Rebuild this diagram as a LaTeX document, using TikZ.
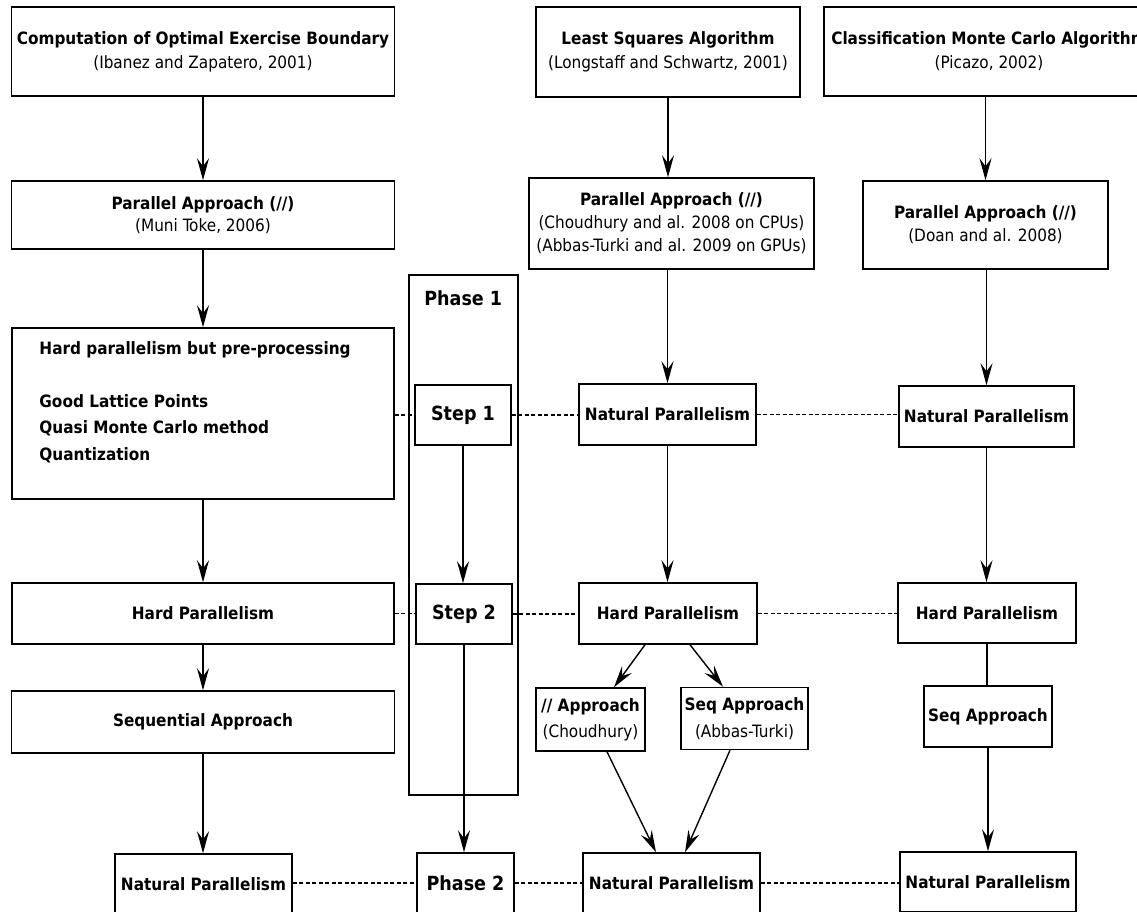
\documentclass[tikz,border=0pt]{standalone}
\usepackage{fontspec}
\setmainfont{DejaVu Sans Condensed}
\usetikzlibrary{arrows.meta,calc}
\newcommand\dgfont{\fontsize{17}{24}\selectfont}
\newcommand\stfont{\fontsize{19.5}{24}\selectfont\bfseries}
\begin{document}
\begin{tikzpicture}[x=1pt,y=-1pt,
  box/.style={draw, line width=1.5pt, inner sep=0pt, align=center, font=\dgfont},
  bbox/.style={box, font=\dgfont\bfseries},
  sbox/.style={box, font=\stfont},
  arr/.style={line width=1.4pt, -{Stealth[length=22pt,width=12pt,inset=8pt]}},
  plain/.style={line width=1.4pt},
  dotline/.style={line width=1.3pt, dash pattern=on 4pt off 2.5pt}]
\useasboundingbox (0,0) rectangle (1137,911);
\fill[white] (0,0) rectangle (1137,911);
\clip (0,0) rectangle (1137,911);

% top row: the three algorithms
\node[box, minimum width=383pt, minimum height=89pt] (ceb) at (203,51.5)
  {\textbf{Computation of Optimal Exercise Boundary}\\(Ibanez and Zapatero, 2001)};
\node[box, minimum width=264pt, minimum height=90pt] (ls) at (668,52)
  {\textbf{Least Squares Algorithm}\\(Longstaff and Schwartz, 2001)};
\node[box, minimum width=330pt, minimum height=89pt] (cmc) at (989,51.5)
  {\textbf{Classification Monte Carlo Algorithm}\\(Picazo, 2002)};

% parallel approaches
\node[box, minimum width=383pt, minimum height=68pt, font=\fontsize{17}{22}\selectfont] (pa1) at (203,215)
  {\textbf{Parallel Approach (//)}\\(Muni Toke, 2006)};
\node[box, minimum width=285pt, minimum height=91pt, font=\fontsize{17}{23}\selectfont] (pa2) at (671.5,223.5)
  {\textbf{Parallel Approach (//)}\\(Choudhury and al. 2008 on CPUs)\\(Abbas-Turki and al. 2009 on GPUs)};
\node[box, minimum width=245pt, minimum height=88pt, font=\fontsize{17}{23}\selectfont] (pa3) at (985.5,225)
  {\textbf{Parallel Approach (//)}\\(Doan and al. 2008)};

% phase 1 frame
\node[box, minimum width=109pt, minimum height=520pt, anchor=north west] (ph1) at (408,274) {};
\node[font=\stfont, inner sep=0pt] (ph1lbl) at ($(ph1.north)+(0,24)$) {Phase 1};

% step 1 row
\node[box, minimum width=382pt, minimum height=171pt] (hpp) at (203,413.5) {};
\node[font=\fontsize{17}{26.5}\selectfont\bfseries, align=left, anchor=north west, inner sep=0pt]
  (hpptxt) at ($(hpp.north west)+(28,14)$)
  {Hard parallelism but pre-processing\\[26.5pt]Good Lattice Points\\Quasi Monte Carlo method\\Quantization};
\node[sbox, minimum width=96pt, minimum height=60pt] (s1) at (463,415) {Step 1};
\node[bbox, minimum width=177pt, minimum height=61pt] (np1) at (667.5,414.5) {Natural Parallelism};
\node[bbox, minimum width=175pt, minimum height=61pt] (np2) at (986.5,416.5) {Natural Parallelism};

% step 2 row
\node[bbox, minimum width=382pt, minimum height=61pt] (hp1) at (203,613.5) {Hard Parallelism};
\node[sbox, minimum width=96pt, minimum height=60pt] (s2) at (464,614) {Step 2};
\node[bbox, minimum width=178pt, minimum height=61pt] (hp2) at (668,613.5) {Hard Parallelism};
\node[bbox, minimum width=178pt, minimum height=60pt] (hp3) at (987,613) {Hard Parallelism};

% approaches after the hard step
\node[bbox, minimum width=383pt, minimum height=62pt] (seq) at (203,722) {Sequential Approach};
\node[box, minimum width=109pt, minimum height=63pt, font=\fontsize{17}{26}\selectfont] (pa4) at (590.5,719.5) {\textbf{// Approach}\\(Choudhury)};
\node[box, minimum width=127pt, minimum height=62pt, font=\fontsize{17}{27}\selectfont] (sa1) at (744.5,718.5) {\textbf{Seq Approach}\\(Abbas-Turki)};
\node[bbox, minimum width=128pt, minimum height=61pt] (sa2) at (988,716.5) {Seq Approach};

% phase 2 row
\node[bbox, minimum width=177pt, minimum height=60pt] (npa) at (203.5,884) {Natural Parallelism};
\node[sbox, minimum width=97pt, minimum height=60pt] (ph2) at (465.5,883) {Phase 2};
\node[bbox, minimum width=177pt, minimum height=60pt] (npb) at (671.5,883) {Natural Parallelism};
\node[bbox, minimum width=176pt, minimum height=60pt] (npc) at (988,882) {Natural Parallelism};

% vertical flow
\draw[arr] (ceb.south) -- (ceb.south |- pa1.north);
\draw[arr] (ls.south) -- (ls.south |- pa2.north);
\draw[arr] (cmc.south -| pa3.north) -- (pa3.north);
\draw[arr] (pa1.south) -- (pa1.south |- hpp.north);
\draw[arr] (pa2.south -| np1.north) -- (np1.north);
\draw[arr] (pa3.south -| np2.north) -- (np2.north);
\draw[arr] (hpp.south) -- (hpp.south |- hp1.north);
\draw[arr] (s1.south) -- (s1.south |- s2.north);
\draw[arr] (np1.south) -- (np1.south |- hp2.north);
\draw[arr] (np2.south) -- (np2.south |- hp3.north);
\draw[arr] (hp1.south) -- (hp1.south |- seq.north);
\draw[plain] (hp3.south) -- (hp3.south |- sa2.north);
\draw[arr] (seq.south) -- (seq.south |- npa.north);
\draw[arr] (s2.south) -- (s2.south |- ph2.north);
\draw[arr] (sa2.south) -- (sa2.south |- npc.north);

% split and merge around the hard step
\draw[arr] ($(hp2.south)+(-23,0)$) -- ($(pa4.north)+(23.5,0)$);
\draw[arr] ($(hp2.south)+(22,0)$) -- ($(sa1.north)+(-21.5,0)$);
\draw[arr] ($(pa4.south)+(16.5,0)$) -- ($(npb.north)+(-15.5,0)$);
\draw[arr] ($(sa1.south)+(-14.5,0)$) -- ($(npb.north)+(13.5,0)$);

% dotted rows linking the phases
\draw[dotline] (hpp.east |- s1.west) -- (s1.west);
\draw[dotline] (s1.east) -- (s1.east -| np1.west);
\draw[dotline] (np1.east) -- (np1.east -| np2.west);
\draw[dotline] (hp1.east) -- (hp1.east -| s2.west);
\draw[dotline] (s2.east) -- (s2.east -| hp2.west);
\draw[dotline] (hp2.east) -- (hp2.east -| hp3.west);
\draw[dotline] (npa.east |- ph2.west) -- (ph2.west);
\draw[dotline] (ph2.east) -- (ph2.east -| npb.west);
\draw[dotline] (npb.east) -- (npb.east -| npc.west);
\end{tikzpicture}
\end{document}
